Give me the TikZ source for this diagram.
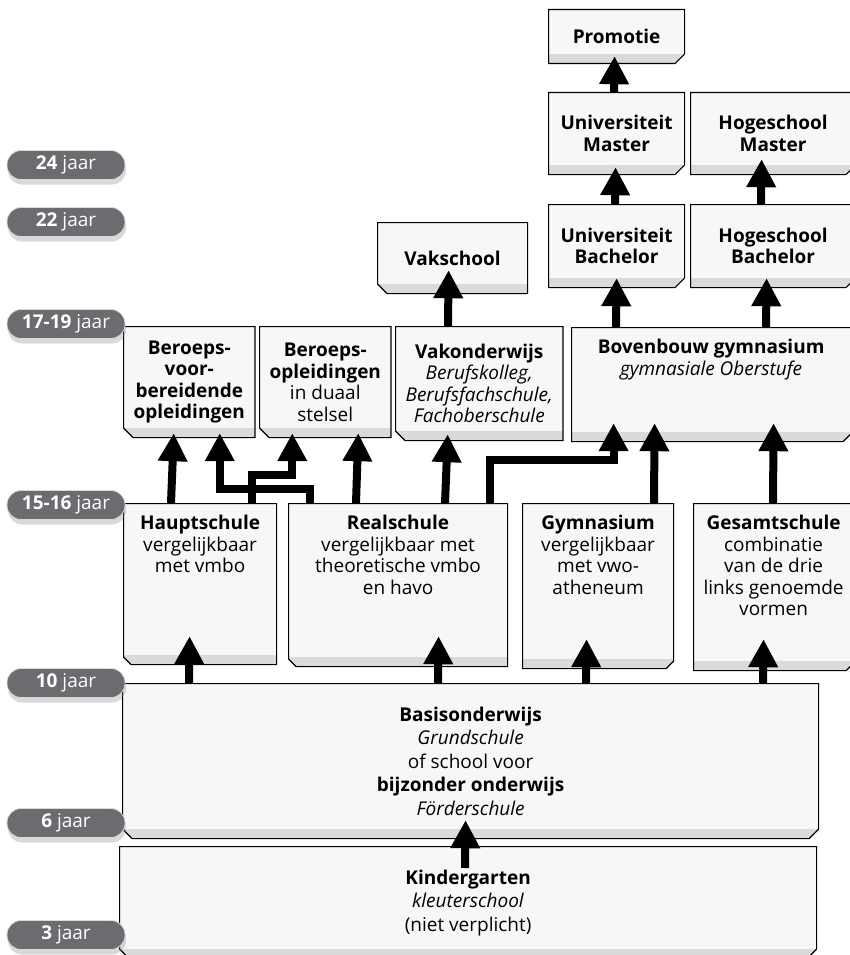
\documentclass[tikz,border=0pt]{standalone}
\usepackage{fontspec}
\setmainfont{Open Sans}
\usetikzlibrary{arrows.meta,shapes.misc,shadows}

\definecolor{boxfill}{HTML}{F6F7F7}
\definecolor{bandgray}{HTML}{D9DADB}
\definecolor{agegray}{HTML}{6B6C6F}

\newcommand{\boxfont}{\fontsize{19}{21.5}\selectfont}
\newcommand{\widefont}{\fontsize{19}{23.5}\selectfont}
\newcommand{\agefont}{\fontsize{19}{20}\selectfont}

\tikzset{
  box/.style={chamfered rectangle, chamfered rectangle xsep=6pt,
    chamfered rectangle corners=south west, draw, line width=1.2pt, fill=boxfill,
    anchor=north west, inner sep=4pt, align=center, font=\boxfont,
    path picture={\fill[bandgray] ([yshift=-2pt]path picture bounding box.south west)
      rectangle ([yshift=10pt]path picture bounding box.south east);}},
  toptext/.style={anchor=north, yshift=-12pt, align=center, font=\boxfont, inner sep=0pt},
  age/.style={rectangle, rounded corners=14pt, fill=agegray, draw=gray!30, line width=0.8pt,
    text=white, minimum width=118, minimum height=29, inner sep=0pt, font=\agefont,
    drop shadow={shadow xshift=1pt, shadow yshift=-5pt, opacity=0.3}},
  arr/.style={line width=8pt, -{Triangle[width=28pt,length=28pt]}}
}

\begin{document}
\begin{tikzpicture}[x=1pt, y=-1pt]
\useasboundingbox (0,0) rectangle (849,955);

\node[box, minimum width=136, minimum height=54, chamfered rectangle corners=south east] (promotie) at (548,9) {\textbf{Promotie}};
\node[box, minimum width=136, minimum height=82, chamfered rectangle corners=south east] (unimaster) at (548,92) {\textbf{Universiteit}\\\textbf{Master}};
\node[box, minimum width=165, minimum height=82, chamfered rectangle corners=south east] (hogemaster) at (690,92) {\textbf{Hogeschool}\\\textbf{Master}};
\node[box, minimum width=136, minimum height=83, chamfered rectangle corners=south east] (unibachelor) at (548,204) {\textbf{Universiteit}\\\textbf{Bachelor}};
\node[box, minimum width=165, minimum height=83, chamfered rectangle corners=south east] (hogebachelor) at (690,204) {\textbf{Hogeschool}\\\textbf{Bachelor}};
\node[box, minimum width=150, minimum height=71] (vakschool) at (377,222) {\textbf{Vakschool}};

\node[box, minimum width=127, minimum height=111] (berv) at (123,326) {\textbf{Beroeps-}\\\textbf{voor-}\\\textbf{bereidende}\\\textbf{opleidingen}};
\node[box, minimum width=128, minimum height=111] (bero) at (259,326) {\textbf{Beroeps-}\\\textbf{opleidingen}\\in duaal\\stelsel};
\node[box, minimum width=163, minimum height=114] (vako) at (395,326) {\textbf{Vakonderwijs}\\\textit{Berufskolleg,}\\\textit{Berufsfachschule,}\\\textit{Fachoberschule}};
\node[box, minimum width=279, minimum height=114, chamfered rectangle corners=south east,
  label={[toptext]north:{\textbf{Bovenbouw gymnasium}\\\textit{gymnasiale Oberstufe}}}] (bovb) at (571,327) {};

\node[box, minimum width=153, minimum height=161,
  label={[toptext]north:{\textbf{Hauptschule}\\vergelijkbaar\\met vmbo}}] (haupt) at (123,503) {};
\node[box, minimum width=219, minimum height=163,
  label={[toptext]north:{\textbf{Realschule}\\vergelijkbaar met\\theoretische vmbo\\en havo}}] (real) at (288,503) {};
\node[box, minimum width=151, minimum height=165, chamfered rectangle corners=south east,
  label={[toptext]north:{\textbf{Gymnasium}\\vergelijkbaar\\met vwo-\\atheneum}}] (gym) at (522,503) {};
\node[box, minimum width=160, minimum height=167, chamfered rectangle corners=south east,
  label={[toptext]north:{\textbf{Gesamtschule}\\combinatie\\van de drie\\links genoemde\\vormen}}] (gesamt) at (693,503) {};

\node[box, minimum width=696, minimum height=155, font=\widefont,
  chamfered rectangle corners={south west,south east}] (basis) at (122,683)
  {\textbf{Basisonderwijs}\\\textit{Grundschule}\\of school voor\\\textbf{bijzonder onderwijs}\\\textit{Förderschule}};
\node[box, minimum width=697, minimum height=112, font=\widefont,
  chamfered rectangle corners={south west,south east}] (kinder) at (119,846)
  {\textbf{Kindergarten}\\\textit{kleuterschool}\\(niet verplicht)};

\draw[arr] ([xshift=66]unimaster.north west) -- ([xshift=-2,yshift=8]promotie.south);
\draw[arr] ([xshift=67]unibachelor.north west) -- ([xshift=-1,yshift=8]unimaster.south);
\draw[arr] ([xshift=71]hogebachelor.north west) -- ([xshift=-11.5,yshift=16]hogemaster.south);
\draw[arr] ([xshift=45]bovb.north west) -- ([yshift=10]unibachelor.south);
\draw[arr] ([xshift=195]bovb.north west) -- ([xshift=-6.5,yshift=10]hogebachelor.south);
\draw[arr] ([xshift=53]vako.north west) -- ([xshift=-4,yshift=24]vakschool.south);

\draw[arr] ([xshift=48]haupt.north west) -- ([xshift=-15.5,yshift=5]berv.south);
\draw[arr] ([xshift=129]haupt.north west) -- ++(0,-28) -| ([xshift=-33,yshift=5]bero.south);
\draw[arr] ([xshift=22]real.north west) -- ++(0,-14) -| ([xshift=30.5,yshift=5]berv.south);
\draw[arr] ([xshift=68]real.north west) -- ([xshift=33,yshift=5]bero.south);
\draw[arr] ([xshift=157]real.north west) -- ([xshift=-31.5,yshift=7]vako.south);
\draw[arr] ([xshift=202]real.north west) -- ++(0,-43) -| ([xshift=-97.5,yshift=19]bovb.south);
\draw[arr] ([xshift=132]gym.north west) -- ([xshift=-56.5,yshift=19]bovb.south);
\draw[arr] ([xshift=80]gesamt.north west) -- ([xshift=62.5,yshift=19]bovb.south);

\draw[arr] ([xshift=67]basis.north west) -- ([xshift=-10.5,yshift=29]haupt.south);
\draw[arr] ([xshift=316]basis.north west) -- ([xshift=40.5,yshift=31]real.south);
\draw[arr] ([xshift=464]basis.north west) -- ([xshift=-11.5,yshift=30]gym.south);
\draw[arr] ([xshift=641]basis.north west) -- ([xshift=-10,yshift=32]gesamt.south);
\draw[arr] ([xshift=346,yshift=-22]kinder.north west) -- ([xshift=-5,yshift=19]basis.south);

\node[age] (age24) at (66,165) {\textbf{24} jaar};
\node[age] (age22) at (66,222) {\textbf{22} jaar};
\node[age] (age17) at (66,324) {\textbf{17-19} jaar};
\node[age] (age15) at (66,505) {\textbf{15-16} jaar};
\node[age] (age10) at (66,683) {\textbf{10} jaar};
\node[age] (age6) at (66,823) {\textbf{6} jaar};
\node[age] (age3) at (66,935) {\textbf{3} jaar};
\end{tikzpicture}
\end{document}
